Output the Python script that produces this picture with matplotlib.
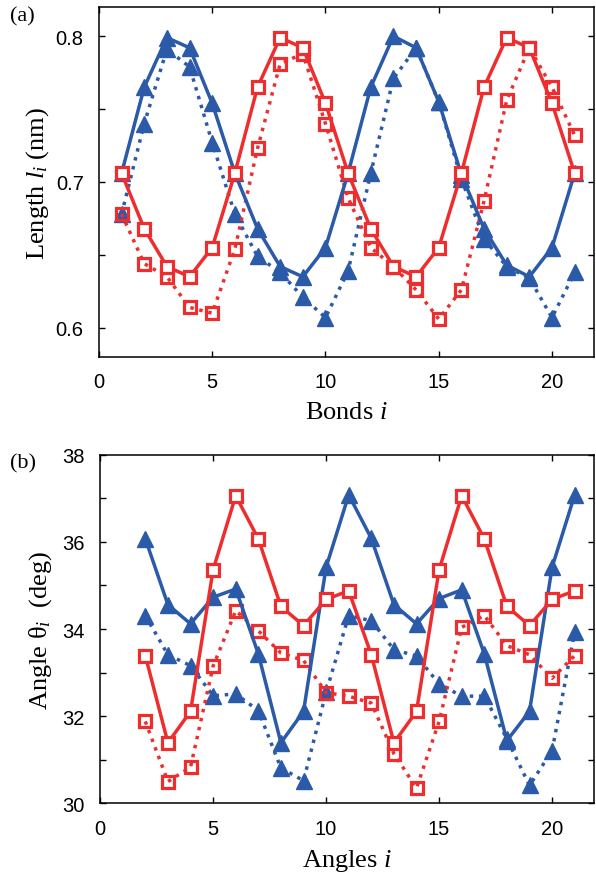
import matplotlib
matplotlib.use('Agg')
import matplotlib.pyplot as plt

# fonts: serif labels, sans tick labels
plt.rcParams['font.family'] = ['Liberation Sans', 'DejaVu Sans']
plt.rcParams['mathtext.fontset'] = 'custom'
plt.rcParams['mathtext.rm'] = 'Liberation Serif'
plt.rcParams['mathtext.it'] = 'Liberation Serif:italic'

BLUE = '#2a5aa8'
RED = '#ee2e2e'

# (a) bond lengths
bonds = list(range(1, 22))
len_blue_solid = [0.706, 0.765, 0.799, 0.792, 0.754, 0.706, 0.668, 0.642, 0.635, 0.655,
                  0.706, 0.765, 0.800, 0.792, 0.755, 0.705, 0.668, 0.643, 0.635, 0.655, 0.706]
len_red_solid = [0.706, 0.668, 0.642, 0.635, 0.655, 0.706, 0.765, 0.799, 0.792, 0.754,
                 0.706, 0.668, 0.642, 0.635, 0.655, 0.706, 0.765, 0.799, 0.792, 0.754, 0.706]
len_blue_dot = [0.678, 0.740, 0.791, 0.779, 0.727, 0.678, 0.649, 0.638, 0.621, 0.607,
                0.639, 0.706, 0.771, 0.792, 0.755, 0.702, 0.661, 0.642, 0.634, 0.607, 0.638]
len_red_dot = [0.678, 0.644, 0.635, 0.614, 0.610, 0.654, 0.723, 0.781, 0.788, 0.740,
               0.689, 0.655, 0.642, 0.626, 0.606, 0.626, 0.687, 0.756, 0.792, 0.765, 0.732]

# (b) bond angles
angles = list(range(2, 22))
ang_blue_solid = [36.07, 34.56, 34.12, 34.73, 34.92, 33.43, 31.39, 32.11, 35.42, 37.08,
                  36.08, 34.56, 34.12, 34.70, 34.90, 33.43, 31.44, 32.11, 35.42, 37.08]
ang_red_solid = [33.39, 31.39, 32.11, 35.36, 37.06, 36.07, 34.52, 34.08, 34.68, 34.88,
                 33.41, 31.39, 32.11, 35.36, 37.06, 36.07, 34.52, 34.08, 34.68, 34.88]
ang_blue_dot = [34.31, 33.41, 33.16, 32.47, 32.51, 32.13, 30.81, 30.52, 32.55, 34.31,
                34.19, 33.53, 33.38, 32.74, 32.46, 32.46, 31.48, 30.41, 31.21, 33.94]
ang_red_dot = [31.88, 30.50, 30.83, 33.15, 34.42, 33.96, 33.45, 33.28, 32.54, 32.46,
               32.30, 31.14, 30.35, 31.88, 34.04, 34.31, 33.62, 33.41, 32.87, 33.39]


def draw(ax, x, bs, rs, bd, rd):
    ax.plot(x, bd, ':', color=BLUE, lw=2.5, marker='^', ms=11.5, mfc=BLUE, mec=BLUE)
    ax.plot(x, rd, ':', color=RED, lw=2.5, marker='s', ms=9, mfc='none', mec=RED, mew=2.3)
    ax.plot(x, bs, '-', color=BLUE, lw=2.5, marker='^', ms=11.5, mfc=BLUE, mec=BLUE)
    ax.plot(x, rs, '-', color=RED, lw=2.5, marker='s', ms=9, mfc='white', mec=RED, mew=2.3)
    ax.set_xlim(0, 21.85)
    ax.set_xticks([0, 5, 10, 15, 20])
    ax.tick_params(direction='in', top=True, right=True, length=4, width=1, pad=11,
                   labelsize=14.5)
    for sp in ax.spines.values():
        sp.set_linewidth(1.1)


fig = plt.figure(figsize=(5.96, 8.78), dpi=100)

ax1 = fig.add_axes([0.166, 0.5923, 0.8305, 0.3986])
draw(ax1, bonds, len_blue_solid, len_red_solid, len_blue_dot, len_red_dot)
ax1.set_ylim(0.58, 0.82)
ax1.set_yticks([0.60, 0.65, 0.70, 0.75, 0.80])
ax1.set_yticklabels(['0.6', '', '0.7', '', '0.8'])
ax1.set_xticklabels(['0', '5', '10', '15', '20'])
ax1.set_xlabel('Bonds $i$', family='Liberation Serif', fontsize=19, labelpad=7)
ax1.set_ylabel('Length $l_i$ (nm)', family='Liberation Serif', fontsize=19, labelpad=3)
fig.text(0.017, 0.992, '(a)', family='Liberation Serif', fontsize=16, va='top')

ax2 = fig.add_axes([0.168, 0.0839, 0.8285, 0.397])
draw(ax2, angles, ang_blue_solid, ang_red_solid, ang_blue_dot, ang_red_dot)
ax2.set_ylim(30, 38)
ax2.set_yticks(range(30, 39))
ax2.set_yticklabels(['30', '', '32', '', '34', '', '36', '', '38'])
ax2.set_xticklabels(['0', '5', '10', '15', '20'])
ax2.set_xlabel('Angles $i$', family='Liberation Serif', fontsize=19, labelpad=7)
ax2.set_ylabel('Angle θ$_i$  (deg)', family='Liberation Serif', fontsize=19, labelpad=6)
fig.text(0.017, 0.483, '(b)', family='Liberation Serif', fontsize=16, va='top')

fig.savefig('out.png', dpi=100)
